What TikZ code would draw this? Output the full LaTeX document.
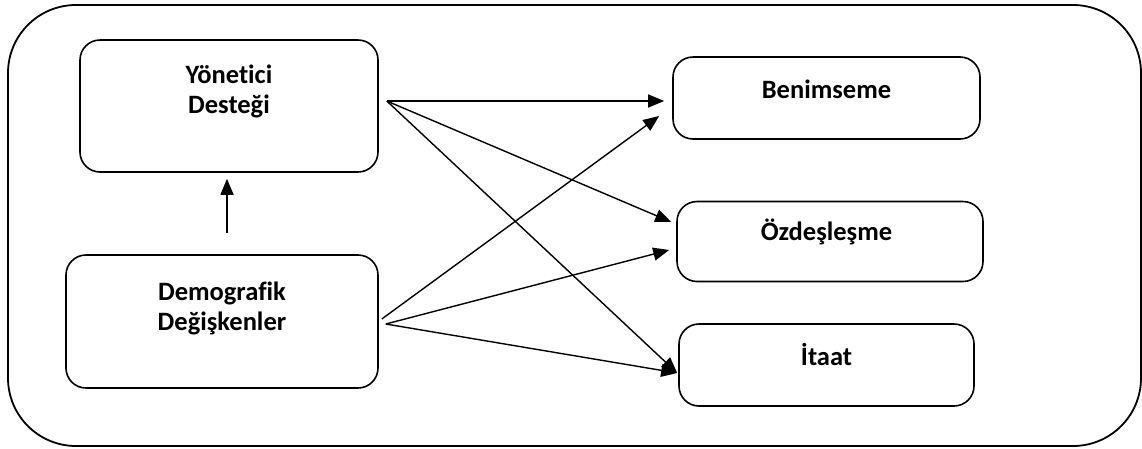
\documentclass[tikz,border=0pt]{standalone}
\usepackage{fontspec}
\setmainfont{Carlito}[Ligatures=NoCommon]
\usetikzlibrary{arrows.meta,calc}
\tikzset{
  box/.style={draw, line width=1.6pt, rounded corners=20pt, inner sep=0pt},
  lbl/.style={font=\bfseries\fontsize{26.5}{30}\selectfont, align=center, inner sep=0pt},
  arr/.style={line width=1.4pt, -{Triangle[length=16pt,width=13pt]}},
  frame/.style={draw, line width=1.8pt, rounded corners=68pt}
}
\begin{document}
\begin{tikzpicture}[x=1pt,y=-1pt]
\useasboundingbox (0,0) rectangle (1142,448);
\draw[frame] (8,5) rectangle (1141,446);
% boxes
\node[box, minimum width=298pt, minimum height=132pt] (yd) at (229,106) {};
\node[box, minimum width=312pt, minimum height=133pt] (dc) at (222,321.5) {};
\node[box, minimum width=307pt, minimum height=82pt] (bn) at (826.5,98) {};
\node[box, minimum width=306pt, minimum height=80pt] (oz) at (830,241.5) {};
\node[box, minimum width=295pt, minimum height=82pt] (it) at (826.5,365) {};
% texts
\node[lbl] (ydt) at (229,91.5) {Yönetici\\Desteği};
\node[lbl] (dct) at (222,308.5) {Demografik\\Değişkenler};
\node[lbl, anchor=base] (bnt) at (826.5,98) {Benimseme};
\node[lbl, anchor=base] (ozt) at (826.5,240) {Özdeşleşme};
\node[lbl, anchor=base] (itt) at (826.5,365) {İtaat};
% connectors
\coordinate (ys) at ($(yd.east)+(8,-5)$);
\coordinate (ds1) at ($(dc.east)+(3,-2.5)$);
\coordinate (ds2) at ($(dc.east)+(7,2.5)$);
\draw[arr] ($(dc.north)+(5,-21)$) -- ($(yd.south)+(-2,6)$);
\draw[arr] (ys) -- ($(bn.west)+(-8,3)$);
\draw[arr] (ys) -- ($(oz.west)+(-5,-19.5)$);
\draw[arr] (ys) -- ($(it.west)+(-1,8)$);
\draw[arr] (ds1) -- ($(bn.west)+(-13,18)$);
\draw[arr] (ds2) -- ($(oz.west)+(-7,8.5)$);
\draw[arr] (ds2) -- ($(it.west)+(-1,8)$);
\end{tikzpicture}
\end{document}
